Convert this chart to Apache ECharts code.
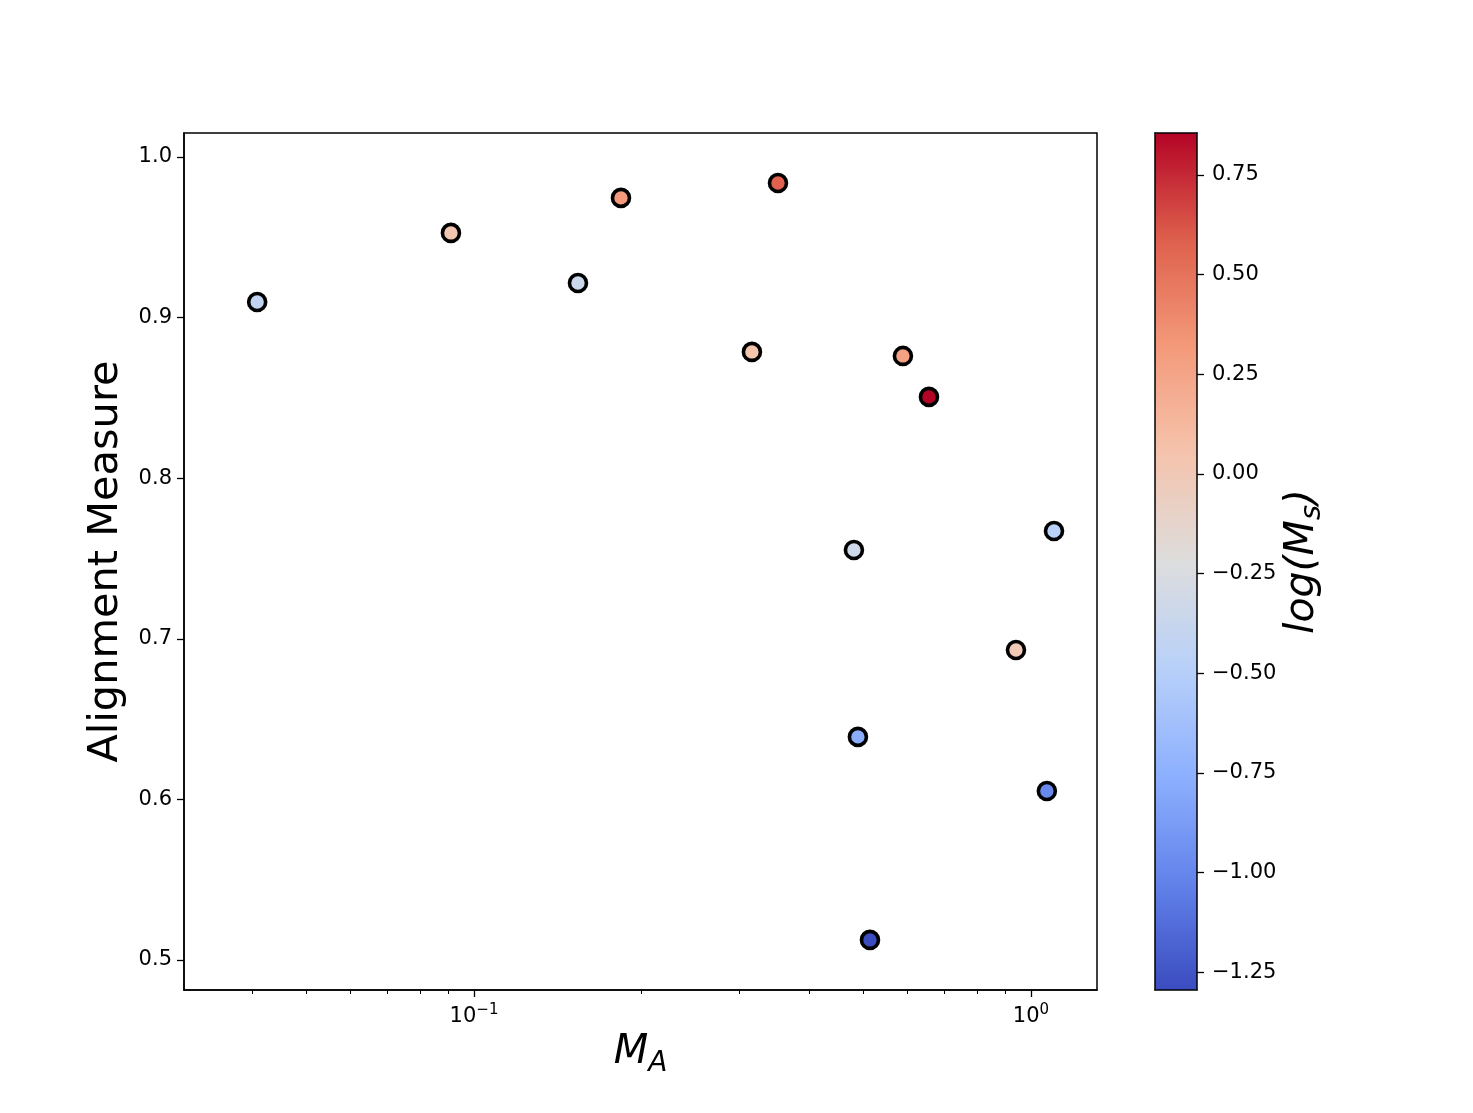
<!DOCTYPE html>
<html><head><meta charset="utf-8">
<script src="https://cdn.jsdelivr.net/npm/echarts@6/dist/echarts.min.js"></script>
<style>html,body{margin:0;padding:0;background:#fff}#c{width:1473px;height:1113px}</style>
</head><body><div id="c"></div>
<script>
// ---- data ----
const maValues    = [0.0408, 0.0909, 0.1537, 0.1836, 0.3514, 0.3155, 0.589, 0.656, 0.481, 1.100, 0.940, 0.489, 1.068, 0.514];
const alignValues = [0.9097, 0.9527, 0.9215, 0.9745, 0.9838, 0.8786, 0.8761, 0.8506, 0.7553, 0.7671, 0.6930, 0.6389, 0.6052, 0.5125];
const logMsValues = [-0.43, 0.02, -0.35, 0.32, 0.58, 0.05, 0.27, 0.855, -0.33, -0.48, 0.0, -0.78, -0.98, -1.295];

const yTicks = [0.5, 0.6, 0.7, 0.8, 0.9, 1.0];
const xMajorTicks = [0.1, 1];
const xMinorTicks = [0.04, 0.05, 0.06, 0.07, 0.08, 0.09, 0.2, 0.3, 0.4, 0.5, 0.6, 0.7, 0.8, 0.9];
const cbTicks = [-1.25, -1.0, -0.75, -0.5, -0.25, 0, 0.25, 0.5, 0.75];

const xRange = [0.03015, 1.314];
const yRange = [0.4813, 1.0149];
const cbRange = [-1.295, 0.855];

const coolwarm = ['#3b4cc0', '#6282ea', '#8db0fe', '#b8d0f9', '#dddddd', '#f5c4ad', '#f49a7b', '#de604d', '#b40426'];

const points = maValues.map((m, i) => [m, alignValues[i], logMsValues[i]]);

const FONT = 'DejaVu Sans';
const TICK_FS = 21;
const chart = echarts.init(document.getElementById('c'), null, {renderer: 'canvas'});

const mainGrid = {left: 184, top: 133, width: 913, height: 857};
const cbGrid = {left: 1155, top: 133, width: 42, height: 857};
const line = {show: true, onZero: false, lineStyle: {color: '#000', width: 1.5}};

chart.setOption({
  backgroundColor: '#ffffff',
  animation: false,
  textStyle: {fontFamily: FONT},
  grid: [
    Object.assign({show: true, borderColor: '#000', borderWidth: 1.5, backgroundColor: 'transparent'}, mainGrid),
    Object.assign({show: false}, cbGrid)
  ],
  xAxis: [
    {
      type: 'log', gridIndex: 0, min: xRange[0], max: xRange[1], position: 'bottom',
      axisLine: line,
      axisTick: {show: true, inside: false, length: 7, lineStyle: {color: '#000', width: 1.3}, customValues: xMajorTicks},
      axisLabel: {
        show: true, margin: 13, customValues: xMajorTicks, color: '#000',
        formatter: v => '{b|10}{s|' + (Math.round(Math.log10(v)) < 0 ? '−' + Math.abs(Math.round(Math.log10(v))) : '0') + '}',
        rich: {
          b: {fontSize: TICK_FS, fontFamily: FONT, color: '#000', lineHeight: 28},
          s: {fontSize: 15, fontFamily: FONT, color: '#000', verticalAlign: 'top', lineHeight: 15}
        }
      },
      splitLine: {show: false},
      name: '{m|M}{sub|A}', nameLocation: 'middle', nameGap: 37,
      nameTextStyle: {
        rich: {
          m: {fontSize: 40, fontStyle: 'italic', fontFamily: FONT, color: '#000', lineHeight: 50},
          sub: {fontSize: 28, fontStyle: 'italic', fontFamily: FONT, color: '#000', verticalAlign: 'bottom', lineHeight: 24}
        }
      }
    },
    {
      type: 'log', gridIndex: 0, min: xRange[0], max: xRange[1], position: 'bottom',
      axisLine: {show: false, onZero: false},
      axisTick: {show: true, inside: false, length: 4, lineStyle: {color: '#000', width: 1}, customValues: xMinorTicks},
      axisLabel: {show: false},
      splitLine: {show: false}
    },
    {
      type: 'value', gridIndex: 1, min: 0, max: 1, position: 'bottom', z: 10,
      axisLine: line, axisTick: {show: false}, axisLabel: {show: false}, splitLine: {show: false}
    },
    {
      type: 'value', gridIndex: 1, min: 0, max: 1, position: 'top', z: 10,
      axisLine: line, axisTick: {show: false}, axisLabel: {show: false}, splitLine: {show: false}
    }
  ],
  yAxis: [
    {
      type: 'value', gridIndex: 0, min: yRange[0], max: yRange[1], position: 'left',
      axisLine: line,
      axisTick: {show: true, inside: false, length: 7, lineStyle: {color: '#000', width: 1.3}, customValues: yTicks},
      axisLabel: {show: true, margin: 12, customValues: yTicks, color: '#000', fontSize: TICK_FS, fontFamily: FONT,
        formatter: v => Number(v).toFixed(1)},
      splitLine: {show: false},
      name: 'Alignment Measure', nameLocation: 'middle', nameGap: 57, nameRotate: 90,
      nameTextStyle: {fontSize: 41.5, fontFamily: FONT, color: '#000'}
    },
    {
      type: 'value', gridIndex: 1, min: cbRange[0], max: cbRange[1], position: 'right', z: 10,
      axisLine: line,
      axisTick: {show: true, inside: false, length: 7, lineStyle: {color: '#000', width: 1.3}, customValues: cbTicks},
      axisLabel: {show: true, margin: 15, customValues: cbTicks, color: '#000', fontSize: TICK_FS, fontFamily: FONT,
        formatter: v => (v < -1e-9 ? '−' : '') + Math.abs(v).toFixed(2)},
      splitLine: {show: false},
      name: '{m|log(M}{sub|s}{m|)}', nameLocation: 'middle', nameGap: 80, nameRotate: 90,
      nameTextStyle: {
        rich: {
          m: {fontSize: 41, fontStyle: 'italic', fontFamily: FONT, color: '#000', lineHeight: 50},
          sub: {fontSize: 29, fontStyle: 'italic', fontFamily: FONT, color: '#000', verticalAlign: 'bottom', lineHeight: 24}
        }
      }
    },
    {
      type: 'value', gridIndex: 1, min: cbRange[0], max: cbRange[1], position: 'left', z: 10,
      axisLine: line, axisTick: {show: false}, axisLabel: {show: false}, splitLine: {show: false}
    }
  ],
  visualMap: {
    type: 'continuous', show: true, dimension: 2, seriesIndex: 0,
    min: cbRange[0], max: cbRange[1],
    inRange: {color: coolwarm},
    left: cbGrid.left, top: cbGrid.top, itemWidth: cbGrid.width, itemHeight: cbGrid.height,
    padding: 0, calculable: false, hoverLink: false, text: null, showLabel: false, realtime: false
  },
  series: [{
    type: 'scatter', xAxisIndex: 0, yAxisIndex: 0,
    data: points,
    symbol: 'circle', symbolSize: 17,
    itemStyle: {borderColor: '#000', borderWidth: 3.6, opacity: 1},
    emphasis: {disabled: true}
  }]
});
</script>
</body></html>
